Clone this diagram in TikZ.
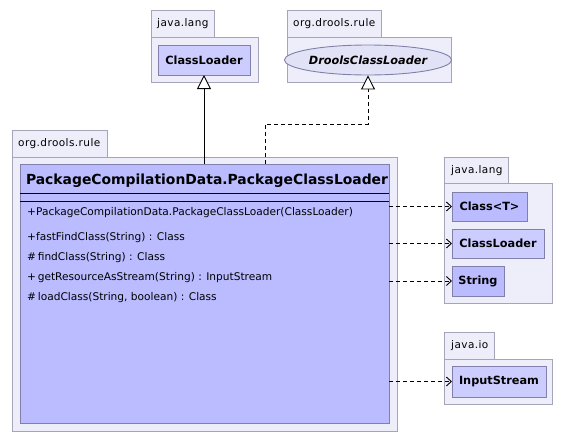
\documentclass[tikz,border=0pt]{standalone}
\usepackage{fontspec}
\setmainfont{DejaVu Sans}
\usetikzlibrary{arrows.meta,shapes.geometric}
\definecolor{pkgfill}{RGB}{238,238,250}
\definecolor{pkgline}{RGB}{165,165,185}
\definecolor{clsdark}{RGB}{186,188,255}
\definecolor{clslight}{RGB}{204,204,255}
\definecolor{clsline}{RGB}{128,128,170}
\definecolor{ellfill}{RGB}{226,226,246}
\begin{document}
\begin{tikzpicture}[x=1pt,y=-1pt,
  pkg/.style={draw=pkgline,fill=pkgfill,line width=0.9pt,inner sep=0pt,outer sep=0pt},
  pkglabel/.style={font=\fontsize{10.5}{12}\selectfont\addfontfeature{LetterSpace=4},anchor=west,inner sep=0pt},
  cls/.style={draw=clsline,line width=0.9pt,inner sep=0pt,outer sep=0pt,font=\fontsize{11.3}{13}\selectfont\bfseries},
  op/.style={font=\fontsize{10.6}{12}\selectfont,anchor=west,inner sep=0pt},
  dep/.style={dashed,dash pattern=on 4pt off 3pt,line width=0.8pt,-{Straight Barb[length=5pt,width=9pt,line width=0.9pt]}},
  inherit/.style={line width=0.8pt,-{Triangle[open,length=14pt,width=14pt,fill=white,line width=0.9pt]}},
  realize/.style={dashed,dash pattern=on 4pt off 3pt,line width=0.8pt,-{Triangle[open,length=14pt,width=14pt,fill=white,line width=0.9pt]}}
]
\useasboundingbox[fill=white] (0,0) rectangle (567,442);

% java.lang (top)
\node[pkg,minimum width=63pt,minimum height=27pt] (jltab) at (182.5,23.5) {};
\node[pkg,minimum width=107pt,minimum height=45pt] (jlbody) at (204.5,59.5) {};
\node[pkglabel] (jllab) at (157,24) {java.lang};
\node[cls,fill=clslight,minimum width=92pt,minimum height=30pt] (cl) at (204,60) {ClassLoader};

% org.drools.rule (top)
\node[pkg,minimum width=94pt,minimum height=27pt] (drtab) at (334,23.5) {};
\node[pkg,minimum width=164pt,minimum height=45pt] (drbody) at (369,59.5) {};
\node[pkglabel] (drlab) at (293,24) {org.drools.rule};
\node[ellipse,draw=clsline,fill=ellfill,line width=0.9pt,inner sep=0pt,minimum width=150pt,minimum height=30pt,font=\fontsize{11.3}{13}\selectfont\bfseries\itshape] (dcl) at (368,60) {DroolsClassLoader};

% org.drools.rule (main)
\node[pkg,minimum width=95pt,minimum height=27pt] (mtab) at (59.5,143.5) {};
\node[pkg,minimum width=385pt,minimum height=274pt] (mbody) at (204.5,294) {};
\node[pkglabel] (mlab) at (18,144) {org.drools.rule};
\node[cls,fill=clsdark,minimum width=369pt,minimum height=259pt] (main) at (204.5,293.5) {};
\node[font=\fontsize{13.9}{16}\selectfont\bfseries,inner sep=0pt] (title) at (207,181) {PackageCompilationData.PackageClassLoader};
\draw[line width=0.9pt] (main.west |- 0,193) -- (main.east |- 0,193);
\draw[line width=0.9pt] (main.west |- 0,201) -- (main.east |- 0,201);
\node[op] (op1) at (27,213) {+PackageCompilationData.PackageClassLoader(ClassLoader)};
\node[op] (op2) at (27,238) {+fastFindClass(String) : Class};
\node[op] (op3) at (27,258) {\#\,findClass(String) : Class};
\node[op] (op4) at (27,278) {+\,getResourceAsStream(String) : InputStream};
\node[op] (op5) at (27,298) {\#\,loadClass(String, boolean) : Class};

% java.lang (right)
\node[pkg,minimum width=64pt,minimum height=26pt] (rjtab) at (476,170) {};
\node[pkg,minimum width=108pt,minimum height=120pt] (rjbody) at (498,243) {};
\node[pkglabel] (rjlab) at (451,171) {java.lang};
\node[cls,fill=clsdark,minimum width=75pt,minimum height=29pt] (ct) at (489.5,206.5) {Class<T>};
\node[cls,fill=clslight,minimum width=92pt,minimum height=29pt] (cl2) at (498,243.5) {ClassLoader};
\node[cls,fill=clsdark,minimum width=52pt,minimum height=30pt] (str) at (478,281) {String};

% java.io
\node[pkg,minimum width=50pt,minimum height=27pt] (iotab) at (469,345.5) {};
\node[pkg,minimum width=108pt,minimum height=45pt] (iobody) at (498,381.5) {};
\node[pkglabel] (iolab) at (451,346) {java.io};
\node[cls,fill=clslight,minimum width=94pt,minimum height=31pt] (is) at (499,381.5) {InputStream};

% connectors
\draw[inherit] (main.north -| cl.south) -- (cl.south);
\coordinate (rb) at (265,164);
\draw[realize] (rb) -- ++(0,-40) -| (dcl.south);
\draw[dep] (main.east |- ct.west) -- (ct.west);
\draw[dep] (main.east |- cl2.west) -- (cl2.west);
\draw[dep] (main.east |- str.west) -- (str.west);
\draw[dep] (main.east |- is.west) -- (is.west);
\end{tikzpicture}
\end{document}
